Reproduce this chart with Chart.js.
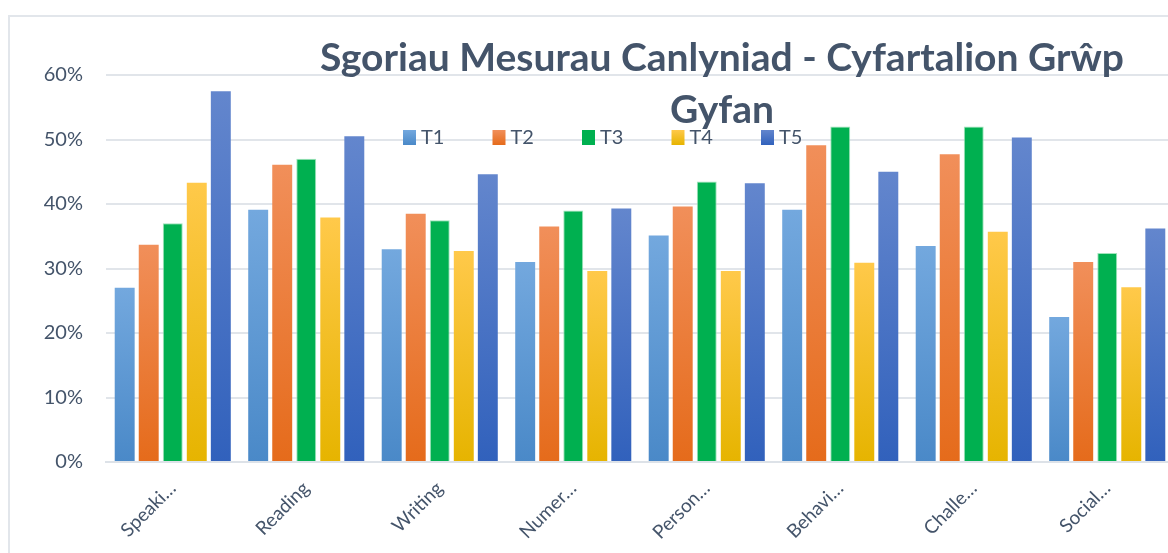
<!DOCTYPE html>
<html>
<head>
<meta charset="utf-8">
<title>Sgoriau Mesurau Canlyniad</title>
<script src="https://cdn.jsdelivr.net/npm/chart.js@4.4.1/dist/chart.umd.min.js"></script>
<style>
    html, body { margin: 0; padding: 0; background: #fff; width: 1168px; height: 553px; overflow: hidden; }
    #frame { position: absolute; left: 8px; top: 15px; width: 1300px; height: 700px; border: 2px solid #e2e6eb; box-sizing: border-box; }
    #wrap { position: absolute; left: 0; top: 0; width: 1200px; height: 580px; }
</style>
</head>
<body>
<div id="frame"></div>
<div id="wrap"><canvas id="chart"></canvas></div>
<script>
const titleLines = ['Sgoriau Mesurau Canlyniad - Cyfartalion Grŵp', 'Gyfan'];

const categories = ['Speaki…', 'Reading', 'Writing', 'Numer…', 'Person…', 'Behavi…', 'Challe…', 'Social…'];

const seriesNames = ['T1', 'T2', 'T3', 'T4', 'T5'];

// values in %
const t1 = [27.0, 39.1, 33.0, 31.0, 35.1, 39.1, 33.5, 22.5];
const t2 = [33.7, 46.1, 38.5, 36.5, 39.6, 49.1, 47.7, 31.0];
const t3 = [37.0, 47.0, 37.5, 39.0, 43.5, 52.0, 52.0, 32.4];
const t4 = [43.3, 37.9, 32.7, 29.6, 29.6, 30.9, 35.7, 27.1];
const t5 = [57.5, 50.5, 44.6, 39.3, 43.2, 45.0, 50.3, 36.2];

const yTicks = [0, 10, 20, 30, 40, 50, 60];

// top / bottom colours of each bar gradient
const colours = [
    ['#73a8de', '#4a89c8'],
    ['#f18f5a', '#e56b1b'],
    ['#00b050', '#00b050'],
    ['#ffc94a', '#e6b400'],
    ['#6386cd', '#3161bc']
];

const textColour = '#44546a';

function barGradient(context, i) {
    const chart = context.chart;
    if (!chart.chartArea || context.type !== 'data') return colours[i][1];
    const y = chart.scales.y;
    const top = y.getPixelForValue(context.raw);
    const bottom = y.getPixelForValue(0);
    if (!(bottom > top)) return colours[i][1];
    const g = chart.ctx.createLinearGradient(0, top, 0, bottom);
    g.addColorStop(0, colours[i][0]);
    g.addColorStop(1, colours[i][1]);
    return g;
}

const allSeries = [t1, t2, t3, t4, t5];

const datasets = allSeries.map((values, i) => ({
    label: seriesNames[i],
    data: values,
    backgroundColor: ctx => barGradient(ctx, i),
    borderColor: i === 2 ? 'rgba(150,225,180,0.9)' : 'rgba(0,0,0,0)',
    borderWidth: i === 2 ? 1 : 0,
    categoryPercentage: 0.9,
    barPercentage: 0.83
}));

// title and legend sit over the plot, like the original
const overlay = {
    id: 'overlay',
    afterDraw(chart) {
        const ctx = chart.ctx;
        ctx.save();
        ctx.fillStyle = textColour;
        ctx.font = 'bold 39px Lato';
        ctx.textAlign = 'center';
        ctx.textBaseline = 'alphabetic';
        ctx.fillText(titleLines[0], 722, 71);
        ctx.fillText(titleLines[1], 722, 123);

        ctx.font = '20px Lato';
        ctx.textAlign = 'left';
        ctx.textBaseline = 'middle';
        seriesNames.forEach((name, i) => {
            const x = 403 + i * 89.5;
            const g = ctx.createLinearGradient(0, 130, 0, 145);
            g.addColorStop(0, colours[i][0]);
            g.addColorStop(1, colours[i][1]);
            ctx.fillStyle = g;
            ctx.fillRect(x, 130, 13, 15);
            ctx.fillStyle = textColour;
            ctx.fillText(name, x + 18, 138);
        });
        ctx.restore();
    }
};

new Chart(document.getElementById('chart'), {
    type: 'bar',
    data: { labels: categories, datasets: datasets },
    plugins: [overlay],
    options: {
        responsive: true,
        maintainAspectRatio: false,
        animation: false,
        layout: { padding: { top: 75, right: 26, left: 0, bottom: 0 } },
        plugins: {
            legend: { display: false },
            title: { display: false },
            tooltip: { enabled: false }
        },
        scales: {
            x: {
                grid: { display: false },
                border: { display: true, color: '#dde2e8', width: 2 },
                ticks: {
                    color: textColour,
                    font: { family: 'Lato', size: 19 },
                    maxRotation: 45,
                    minRotation: 45,
                    labelOffset: 0,
                    padding: 7
                },
                afterFit(scale) { scale.height = 118; }
            },
            y: {
                min: 0,
                max: 60,
                afterBuildTicks(scale) { scale.ticks = yTicks.map(v => ({ value: v })); },
                grid: { color: '#e1e5ea', lineWidth: 2, drawTicks: false },
                border: { display: false },
                ticks: {
                    color: textColour,
                    font: { family: 'Lato', size: 20 },
                    padding: 23,
                    callback: v => v + '%'
                },
                afterFit(scale) { scale.width = 106; }
            }
        }
    }
});
</script>
</body>
</html>
